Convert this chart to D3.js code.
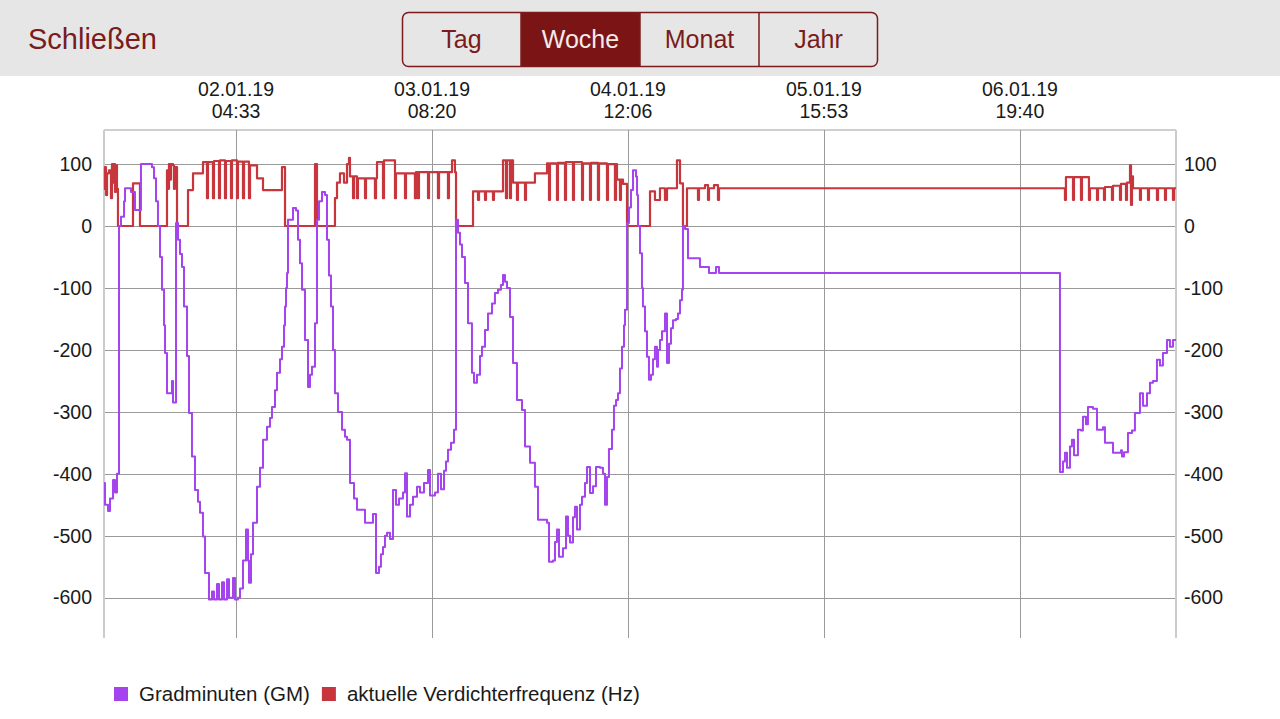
<!DOCTYPE html>
<html>
<head>
  <meta charset="utf-8">
  <title>Verlauf</title>
  <script src="https://d3js.org/d3.v7.min.js"></script>
  <style>
    body { margin: 0; background: #fff; font-family: "Liberation Sans", Arial, sans-serif; }
  </style>
</head>
<body>
<script>
// time axis: hours after t0
var t0 = new Date(2019, 0, 1, 9, 50);
var spanHours = 151.96;
var xTickLabels = ["02.01.19 04:33", "03.01.19 08:20", "04.01.19 12:06", "05.01.19 15:53", "06.01.19 19:40"];
var yTicks = [100, 0, -100, -200, -300, -400, -500, -600];
var buttons = ["Tag", "Woche", "Monat", "Jahr"];
var activeButton = "Woche";
var seriesNames = ["Gradminuten (GM)", "aktuelle Verdichterfrequenz (Hz)"];
var seriesColors = ["#a544ee", "#c7353d"];

// Gradminuten [hour, value]
var gmPoints = [
  [0,-415],[0.14,-450],[0.57,-460],[0.85,-440],[1.28,-410],[1.56,-430],[1.84,-400],
  [2.13,0],[2.41,15],[2.84,40],[2.98,61],[3.83,55],[4.39,26],[5.24,100],[6.80,95],
  [7.09,77],[7.37,40],[7.65,0],[7.94,-50],[8.22,-103],[8.51,-160],[8.65,-205],[8.93,-270],
  [9.64,-250],[9.78,-285],[10.21,5],[10.49,-22],[10.77,-45],[11.06,-66],[11.34,-130],
  [11.77,-210],[12.05,-302],[12.47,-372],[12.90,-426],[13.32,-445],[13.61,-463],[14.03,-501],
  [14.32,-560],[14.88,-603],[15.31,-590],[15.59,-603],[16.02,-578],[16.30,-603],[16.73,-575],
  [17.01,-603],[17.44,-570],[17.72,-600],[18.29,-568],[18.57,-603],[18.99,-600],[19.28,-585],
  [19.70,-540],[20.13,-490],[20.41,-540],[20.55,-576],[20.84,-530],[21.12,-479],[21.69,-421],
  [22.11,-390],[22.54,-345],[23.11,-324],[23.53,-310],[23.81,-292],[24.24,-265],[24.52,-237],
  [24.95,-215],[25.23,-195],[25.52,-160],[25.66,-130],[25.80,-100],[25.94,-76],[26.08,10],
  [26.79,29],[27.22,25],[27.50,-22],[27.78,-60],[28.07,-103],[28.49,-184],[28.92,-260],
  [29.20,-240],[29.48,-227],[29.91,-157],[30.19,10],[30.48,40],[30.90,55],[31.33,50],
  [31.61,-22],[31.89,-80],[32.18,-130],[32.46,-200],[32.74,-270],[33.17,-300],[33.74,-329],
  [34.16,-340],[34.45,-345],[34.87,-415],[35.44,-440],[35.86,-458],[37.00,-479],[38.13,-465],
  [38.56,-560],[38.98,-550],[39.26,-530],[39.55,-518],[39.83,-500],[40.12,-495],[40.54,-505],
  [40.97,-426],[41.39,-450],[41.82,-440],[42.38,-430],[42.67,-399],[42.95,-469],[43.38,-450],
  [43.80,-437],[44.37,-421],[44.79,-430],[45.36,-415],[45.93,-394],[46.21,-435],[46.92,-430],
  [47.34,-400],[47.77,-425],[48.20,-395],[48.48,-380],[48.76,-361],[49.19,-350],[49.61,-329],
  [49.90,10],[50.18,-11],[50.46,-30],[50.75,-50],[51.17,-92],[51.60,-157],[52.16,-237],
  [52.45,-253],[52.87,-240],[53.30,-210],[53.58,-195],[54.01,-168],[54.43,-141],[55.00,-125],
  [55.42,-108],[55.85,-103],[56.27,-95],[56.56,-79],[56.84,-90],[57.13,-100],[57.55,-147],
  [57.98,-221],[58.54,-281],[59.25,-297],[59.68,-356],[60.39,-382],[61.09,-421],[61.52,-474],
  [62.80,-479],[63.08,-542],[63.65,-540],[63.93,-510],[64.21,-490],[64.50,-534],[65.06,-520],
  [65.49,-469],[65.77,-500],[66.06,-511],[66.48,-470],[66.76,-453],[67.05,-490],[67.47,-450],
  [67.76,-437],[68.18,-415],[68.47,-389],[68.89,-431],[69.32,-420],[69.74,-389],[70.31,-390],
  [70.73,-400],[71.02,-450],[71.30,-405],[71.58,-360],[72.01,-329],[72.29,-290],[72.58,-281],
  [72.86,-270],[73.14,-230],[73.43,-195],[73.71,-160],[73.85,-135],[74.14,5],[74.42,30],
  [74.70,58],[74.99,90],[75.41,80],[75.56,50],[75.70,0],[75.98,-44],[76.26,-100],[76.40,-130],
  [76.69,-170],[76.97,-211],[77.25,-248],[77.54,-240],[77.82,-215],[78.10,-195],[78.39,-227],
  [78.53,-200],[78.81,-184],[79.10,-170],[79.52,-141],[79.81,-221],[80.09,-190],[80.37,-165],
  [80.66,-152],[81.08,-150],[81.36,-141],[81.65,-120],[81.93,-103],[82.07,0],[82.36,-5],
  [82.78,-52],[84.20,-52],[84.48,-66],[85.62,-66],[85.76,-76],[86.61,-76],[86.75,-66],
  [87.18,-76],[135.51,-397],[135.94,-380],[136.22,-366],[136.51,-390],[136.93,-356],
  [137.21,-345],[137.50,-370],[138.06,-329],[138.49,-330],[138.77,-308],[139.20,-320],
  [139.48,-292],[140.19,-295],[140.76,-329],[141.61,-325],[141.89,-350],[142.88,-350],
  [143.03,-366],[144.16,-362],[144.30,-372],[144.59,-365],[145.15,-334],[145.72,-330],
  [146.14,-302],[146.85,-270],[147.28,-290],[147.85,-270],[148.27,-253],[148.70,-250],
  [149.26,-216],[149.69,-225],[150.11,-205],[150.68,-184],[151.10,-195],[151.53,-184],[151.96,-184]
];

// Verdichterfrequenz [hour, Hz]
var freqPoints = [
  [0,60],[0.14,95],[0.28,50],[0.43,85],[0.71,90],[0.99,45],[1.13,100],[1.28,70],[1.42,100],
  [1.56,55],[1.70,98],[1.84,60],[1.98,0],[4.11,69],[5.10,0],[8.93,90],[9.07,60],[9.21,100],
  [9.36,75],[9.50,100],[9.78,98],[9.92,60],[10.06,95],[10.35,0],[11.91,58],[12.62,85],
  [14.03,103],[14.60,45],[14.74,103],[15.45,45],[15.59,105],[16.30,45],[16.44,106],[17.15,45],
  [17.29,105],[18.00,45],[18.14,106],[18.85,45],[18.99,104],[19.70,45],[19.85,104],[20.55,45],
  [20.70,98],[21.69,77],[22.54,58],[25.23,95],[25.66,0],[29.91,100],[30.19,0],[32.74,45],
  [33.03,70],[33.45,85],[34.02,70],[34.45,100],[34.73,110],[34.87,80],[35.30,45],[35.44,80],
  [35.86,45],[36.00,77],[37.00,45],[37.14,77],[38.41,45],[38.56,77],[38.70,103],[39.55,45],
  [39.69,106],[41.25,45],[41.39,85],[42.67,45],[42.81,85],[44.08,45],[44.23,87],[44.51,45],
  [44.65,87],[45.93,45],[46.07,87],[47.34,45],[47.49,87],[48.76,45],[48.90,87],[49.33,106],
  [49.75,87],[49.90,0],[52.31,56],[53.01,42],[53.16,56],[54.01,42],[54.15,56],[55.14,42],
  [55.28,56],[56.56,106],[56.98,45],[57.13,106],[57.55,45],[57.69,106],[57.98,70],[58.54,42],
  [58.68,70],[59.68,42],[59.82,70],[61.09,85],[62.80,101],[63.08,42],[63.22,101],[64.21,42],
  [64.35,102],[65.35,42],[65.49,103],[66.48,42],[66.62,103],[67.76,42],[67.90,101],[68.89,42],
  [69.03,102],[70.02,42],[70.17,101],[71.30,42],[71.44,100],[72.43,42],[72.58,100],[72.72,75],
  [73.14,42],[73.28,75],[73.57,68],[74.14,0],[77.40,56],[78.10,42],[78.81,61],[79.52,42],
  [79.81,61],[81.22,106],[81.65,69],[82.07,0],[82.64,61],[84.20,42],[84.34,61],[85.19,66],
  [85.62,42],[85.76,61],[86.47,66],[87.03,42],[87.18,61],[136.22,42],[136.36,79],[137.36,42],
  [137.50,79],[138.49,42],[138.63,79],[139.62,42],[139.77,61],[140.76,42],[140.90,61],
  [141.75,42],[141.89,63],[142.88,42],[143.03,65],[144.02,42],[144.16,68],[144.87,42],
  [145.01,70],[145.44,98],[145.58,34],[145.72,80],[145.86,61],[146.85,42],[146.99,61],
  [147.99,42],[148.13,61],[149.26,42],[149.41,61],[150.40,42],[150.54,61],[151.53,42],
  [151.67,61],[151.96,61]
];

var W = 1280, H = 719;
var plotL = 104, plotR = 1176, plotT = 130, plotB = 638;
var labelFont = 19.5;

function hourToDate(h) { return new Date(t0.getTime() + h * 3600000); }
var parseTick = d3.timeParse("%d.%m.%y %H:%M");

var svg = d3.select("body").append("svg")
  .attr("width", W).attr("height", H)
  .style("display", "block");

// header bar
svg.append("rect").attr("x", 0).attr("y", 0).attr("width", W).attr("height", 76).attr("fill", "#e6e6e6");
svg.append("text").attr("x", 28).attr("y", 49)
  .attr("font-size", 29).attr("fill", "#7a1c1c")
  .text("Schließen");

var bx = d3.scaleBand().domain(buttons).range([402, 878]);
var seg = svg.append("g");
seg.selectAll("rect.btn").data(buttons).enter().append("rect")
  .attr("class", "btn")
  .attr("x", function(d) { return bx(d); })
  .attr("y", 13).attr("width", bx.bandwidth()).attr("height", 53)
  .attr("fill", function(d) { return d === activeButton ? "#7b1515" : "none"; });
seg.append("rect").attr("x", 402.5).attr("y", 12.5).attr("width", 475).attr("height", 54)
  .attr("rx", 6).attr("fill", "none").attr("stroke", "#7b1c1c").attr("stroke-width", 1.5);
seg.selectAll("line.sep").data(buttons.slice(1)).enter().append("line")
  .attr("class", "sep")
  .attr("x1", function(d) { return bx(d); }).attr("x2", function(d) { return bx(d); })
  .attr("y1", 13).attr("y2", 66).attr("stroke", "#7b1c1c").attr("stroke-width", 1.5);
seg.selectAll("text").data(buttons).enter().append("text")
  .attr("x", function(d) { return bx(d) + bx.bandwidth() / 2; })
  .attr("y", 48).attr("text-anchor", "middle").attr("font-size", 25)
  .attr("fill", function(d) { return d === activeButton ? "#f4eaea" : "#7a1c1c"; })
  .text(function(d) { return d; });

// scales
var x = d3.scaleTime().domain([t0, hourToDate(spanHours)]).range([plotL, plotR]);
var y = d3.scaleLinear().domain([-665, 155]).range([plotB, plotT]);
var xTicks = xTickLabels.map(parseTick);

// frame + grid
svg.append("line").attr("x1", plotL).attr("x2", plotR).attr("y1", plotT).attr("y2", plotT)
  .attr("stroke", "#cfcfcf").attr("stroke-width", 2);
svg.selectAll("line.hgrid").data(yTicks).enter().append("line")
  .attr("class", "hgrid")
  .attr("x1", plotL).attr("x2", plotR)
  .attr("y1", function(d) { return Math.round(y(d)) + 0.5; })
  .attr("y2", function(d) { return Math.round(y(d)) + 0.5; })
  .attr("stroke", "#9a9a9a").attr("stroke-width", 1);
svg.selectAll("line.vgrid").data(xTicks).enter().append("line")
  .attr("class", "vgrid")
  .attr("x1", function(d) { return Math.round(x(d)) + 0.5; })
  .attr("x2", function(d) { return Math.round(x(d)) + 0.5; })
  .attr("y1", plotT).attr("y2", plotB)
  .attr("stroke", "#9a9a9a").attr("stroke-width", 1);
[plotL, plotR].forEach(function(px) {
  svg.append("line").attr("x1", px).attr("x2", px).attr("y1", plotT).attr("y2", plotB)
    .attr("stroke", "#cccccc").attr("stroke-width", 2);
});

// y axes, both sides (plain hyphen minus like the app)
var yFmt = function(d) { return String(d); };
var yl = svg.append("g").attr("transform", "translate(" + plotL + ",0)")
  .call(d3.axisLeft(y).tickValues(yTicks).tickFormat(yFmt).tickSize(0).tickPadding(12));
var yr = svg.append("g").attr("transform", "translate(" + plotR + ",0)")
  .call(d3.axisRight(y).tickValues(yTicks).tickFormat(yFmt).tickSize(0).tickPadding(8));
[yl, yr].forEach(function(g) {
  g.select(".domain").remove();
  g.selectAll("text").attr("font-size", labelFont).attr("fill", "#1a1a1a")
    .attr("font-family", "Liberation Sans, Arial, sans-serif");
});

// x axis labels on top, two lines
var fmtDate = d3.timeFormat("%d.%m.%y"), fmtTime = d3.timeFormat("%H:%M");
var xl = svg.selectAll("g.xtick").data(xTicks).enter().append("g")
  .attr("class", "xtick")
  .attr("transform", function(d) { return "translate(" + x(d) + ",0)"; });
xl.append("text").attr("y", 96).attr("text-anchor", "middle").attr("font-size", labelFont)
  .attr("fill", "#1a1a1a").text(fmtDate);
xl.append("text").attr("y", 118).attr("text-anchor", "middle").attr("font-size", labelFont)
  .attr("fill", "#1a1a1a").text(fmtTime);

// lines
var line = d3.line()
  .x(function(d) { return x(hourToDate(d[0])); })
  .y(function(d) { return y(d[1]); })
  .curve(d3.curveStepAfter);

svg.append("path").datum(freqPoints)
  .attr("d", line).attr("fill", "none")
  .attr("stroke", seriesColors[1]).attr("stroke-width", 2.2).attr("stroke-linejoin", "round");
svg.append("path").datum(gmPoints)
  .attr("d", line).attr("fill", "none")
  .attr("stroke", seriesColors[0]).attr("stroke-width", 2).attr("stroke-linejoin", "round");

// legend
var leg = svg.append("g").attr("transform", "translate(114,687)");
var lx = 0;
seriesNames.forEach(function(name, i) {
  var item = leg.append("g").attr("transform", "translate(" + lx + ",0)");
  item.append("rect").attr("width", 14).attr("height", 14).attr("fill", seriesColors[i]);
  var t = item.append("text").attr("x", 25).attr("y", 14).attr("font-size", 20.5)
    .attr("fill", "#1a1a1a").text(name);
  lx += 25 + t.node().getComputedTextLength() + 12;
});
</script>
</body>
</html>
